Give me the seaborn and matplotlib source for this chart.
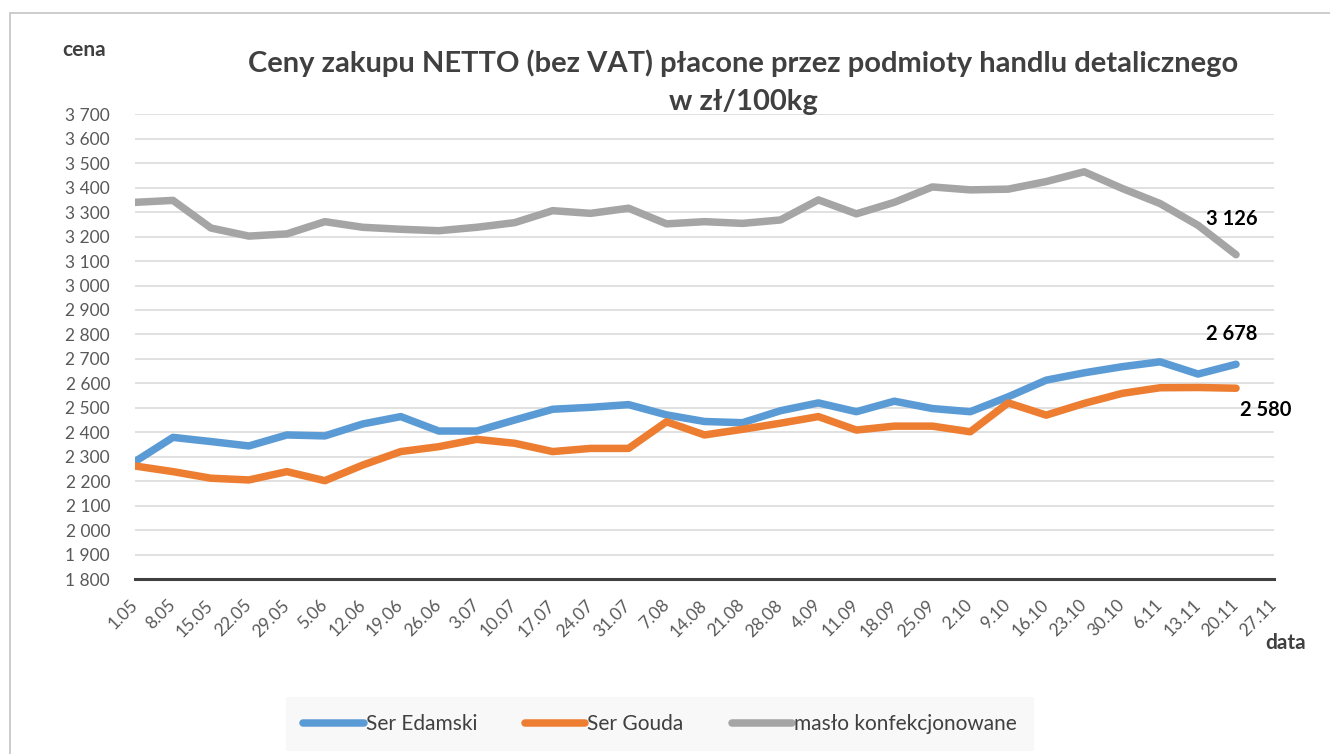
import numpy as np
import pandas as pd
import matplotlib
matplotlib.use("Agg")
import matplotlib.pyplot as plt
import seaborn as sns
from matplotlib.ticker import FuncFormatter
from matplotlib.lines import Line2D

# weekly dates (category labels on the x axis)
dates = ["1.05", "8.05", "15.05", "22.05", "29.05", "5.06", "12.06", "19.06", "26.06",
         "3.07", "10.07", "17.07", "24.07", "31.07", "7.08", "14.08", "21.08", "28.08",
         "4.09", "11.09", "18.09", "25.09", "2.10", "9.10", "16.10", "23.10", "30.10",
         "6.11", "13.11", "20.11", "27.11"]

# prices in zl/100kg (no value for 27.11)
edamski = [2280, 2379, 2362, 2344, 2389, 2385, 2434, 2464, 2405, 2405, 2450, 2494, 2502,
           2513, 2471, 2444, 2439, 2488, 2520, 2484, 2527, 2497, 2484, 2545, 2613, 2643,
           2668, 2688, 2638, 2678]
gouda = [2262, 2239, 2212, 2205, 2239, 2202, 2266, 2321, 2341, 2371, 2355, 2321, 2334,
         2334, 2443, 2389, 2412, 2437, 2464, 2409, 2425, 2425, 2402, 2520, 2470, 2518,
         2559, 2582, 2583, 2580]
maslo = [3340, 3348, 3235, 3202, 3211, 3261, 3238, 3230, 3224, 3238, 3257, 3306, 3295,
         3316, 3252, 3261, 3254, 3268, 3350, 3293, 3340, 3403, 3391, 3394, 3425, 3465,
         3397, 3335, 3246, 3126]

names = ["Ser Edamski", "Ser Gouda", "masło konfekcjonowane"]
colors = ["#5B9BD5", "#ED7D31", "#A5A5A5"]

frames = []
for name, vals in zip(names, [edamski, gouda, maslo]):
    frames.append(pd.DataFrame({"idx": range(len(vals)), "cena": vals, "seria": name}))
df = pd.concat(frames, ignore_index=True)

sns.set_style("white")
plt.rcParams["font.family"] = ["Lato", "DejaVu Sans"]

fig = plt.figure(figsize=(13.3, 7.54), dpi=100)
ax = fig.add_axes([135 / 1330, 1 - 579 / 754, (1274 - 135) / 1330, (579 - 114.3) / 754])

sns.lineplot(data=df, x="idx", y="cena", hue="seria", palette=colors, hue_order=names,
             linewidth=5.4, ax=ax, legend=False, solid_capstyle="round", solid_joinstyle="round")

ax.set_xlim(0, 30)
ax.set_ylim(1800, 3700)
ax.set_yticks(range(1800, 3701, 100))
ax.yaxis.set_major_formatter(FuncFormatter(lambda v, p: f"{v:,.0f}".replace(",", " ")))
ax.set_xticks(range(len(dates)))
ax.set_xticklabels(dates, rotation=45, ha="right", va="center", rotation_mode="anchor")
ax.grid(axis="y", color="#d9d9d9", linewidth=1.1)
ax.set_axisbelow(True)
for s in ["top", "right", "left"]:
    ax.spines[s].set_visible(False)
ax.spines["bottom"].set_color("#404040")
ax.spines["bottom"].set_linewidth(2.2)
ax.tick_params(axis="x", direction="out", length=5, width=2, color="#404040",
               labelsize=12.5, labelcolor="#595959", pad=12)
ax.tick_params(axis="y", length=0, labelsize=12.5, labelcolor="#595959", pad=18)
ax.set_xlabel("")
ax.set_ylabel("")

# end-of-series value labels
ax.annotate("3 126", (29, maslo[-1]), xytext=(-3, 26), textcoords="offset points",
            ha="center", va="center", fontsize=14.5, fontweight="bold", color="black")
ax.annotate("2 678", (29, edamski[-1]), xytext=(-3, 22), textcoords="offset points",
            ha="center", va="center", fontsize=14.5, fontweight="bold", color="black")
ax.annotate("2 580", (29, gouda[-1]), xytext=(21, -16), textcoords="offset points",
            ha="center", va="center", fontsize=14.5, fontweight="bold", color="black")

fig.text(743 / 1330, 1 - 63 / 754, "Ceny zakupu NETTO (bez VAT) płacone przez podmioty handlu detalicznego",
         ha="center", va="center", fontsize=21, fontweight="bold", color="#404040")
fig.text(743 / 1330, 1 - 102 / 754, "w zł/100kg",
         ha="center", va="center", fontsize=21, fontweight="bold", color="#404040")
fig.text(84 / 1330, 1 - 50 / 754, "cena", ha="center", va="center",
         fontsize=15, fontweight="bold", color="#404040")
fig.text(1286 / 1330, 1 - 643 / 754, "data", ha="center", va="center",
         fontsize=15, fontweight="bold", color="#404040")

# outer chart border (top and left visible)
fig.add_artist(Line2D([10 / 1330, 10 / 1330], [0, 1 - 13 / 754], transform=fig.transFigure,
                      color="#c8c8c8", linewidth=1.3))
fig.add_artist(Line2D([10 / 1330, 1], [1 - 13 / 754, 1 - 13 / 754], transform=fig.transFigure,
                      color="#c8c8c8", linewidth=1.3))

handles = [Line2D([0], [0], color=c, linewidth=5.4, solid_capstyle="round") for c in colors]
leg = fig.legend(handles, names, loc="center", bbox_to_anchor=(660 / 1330, 1 - 724 / 754),
                 ncol=3, frameon=True, fontsize=15, handlelength=2.9, handletextpad=0.1,
                 columnspacing=2.3, borderpad=0.8, fancybox=False)
leg.get_frame().set_facecolor("#f7f7f7")
leg.get_frame().set_edgecolor("none")
for t in leg.get_texts():
    t.set_color("#404040")

fig.savefig("out.png", dpi=100)
